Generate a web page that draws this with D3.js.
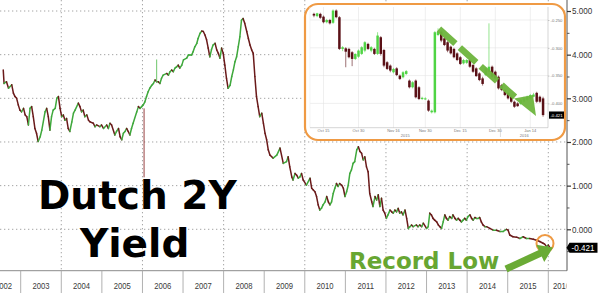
<!DOCTYPE html>
<html><head><meta charset="utf-8">
<script src="https://cdn.jsdelivr.net/npm/d3@7"></script>
<style>body{margin:0;background:#fff;overflow:hidden}svg{display:block}</style>
</head><body><svg id="c" width="600" height="293"></svg>
<script>
// ---------- DATA ----------
const mainDates = [2002.57,2002.59,2002.65,2002.70,2002.78,2002.82,2002.86,2002.90,2002.94,2002.98,
2003.02,2003.07,2003.11,2003.15,2003.19,2003.23,2003.27,2003.31,2003.35,2003.39,2003.43,2003.48,2003.52,2003.60,2003.64,2003.68,2003.72,2003.76,2003.80,2003.85,2003.89,2003.93,2003.97,
2004.01,2004.05,2004.09,2004.13,2004.17,2004.21,2004.26,2004.30,2004.34,2004.42,2004.46,2004.50,2004.54,2004.58,2004.63,2004.67,2004.71,2004.79,2004.83,2004.87,2004.95,2004.99,
2005.04,2005.12,2005.16,2005.20,2005.24,2005.32,2005.36,2005.41,2005.45,2005.49,2005.53,2005.57,2005.61,2005.65,2005.69,2005.73,2005.77,2005.86,2005.90,2005.94,2005.98,
2006.02,2006.06,2006.10,2006.14,2006.18,2006.23,2006.27,2006.31,2006.35,2006.39,2006.43,2006.47,2006.51,2006.60,2006.64,2006.68,2006.72,2006.76,2006.80,2006.84,2006.88,2006.92,2006.97,
2007.01,2007.09,2007.13,2007.17,2007.21,2007.25,2007.29,2007.34,2007.37,2007.42,2007.46,2007.50,2007.54,2007.58,2007.62,2007.66,2007.70,2007.74,2007.79,2007.83,2007.87,2007.91,2007.95,2007.99,
2008.03,2008.07,2008.11,2008.16,2008.20,2008.24,2008.28,2008.32,2008.36,2008.40,2008.44,2008.48,2008.52,2008.57,2008.61,2008.65,2008.69,2008.73,2008.77,2008.81,2008.85,2008.89,2008.94,2008.98,
2009.02,2009.06,2009.10,2009.14,2009.22,2009.31,2009.39,2009.47,2009.55,2009.59,2009.63,2009.68,2009.71,2009.76,2009.80,2009.84,2009.88,2009.92,2009.96,
2010.04,2010.13,2010.17,2010.21,2010.25,2010.29,2010.33,2010.37,2010.41,2010.45,2010.50,2010.54,2010.58,2010.62,2010.66,2010.70,2010.74,2010.78,2010.82,2010.86,2010.91,2010.95,2010.99,
2011.03,2011.07,2011.11,2011.15,2011.19,2011.23,2011.28,2011.32,2011.36,2011.40,2011.44,2011.48,2011.52,2011.56,2011.60,2011.65,2011.68,2011.73,2011.77,2011.81,2011.85,2011.89,2011.93,2011.97,
2012.01,2012.05,2012.10,2012.14,2012.18,2012.22,2012.26,2012.30,2012.34,2012.38,2012.42,2012.47,2012.51,2012.55,2012.59,2012.63,2012.67,2012.75,2012.79,2012.83,2012.88,2012.92,
2013.00,2013.04,2013.08,2013.12,2013.16,2013.20,2013.25,2013.29,2013.33,2013.37,2013.41,2013.45,2013.49,2013.53,2013.57,2013.62,2013.65,2013.70,2013.74,2013.78,2013.82,2013.86,2013.90,2013.94,2013.98,
2014.02,2014.07,2014.11,2014.15,2014.19,2014.23,2014.27,2014.31,2014.35,2014.39,2014.44,2014.48,2014.56,2014.64,2014.72,2014.81,2014.89,2014.97,
2015.01,2015.05,2015.13,2015.22,2015.30,2015.38,2015.46,2015.54,2015.63,2015.71,2015.79,2015.87,2015.91,2015.96,2016.00,2016.04];
const mainValues = [3.65,3.34,3.38,3.23,3.31,3.12,3.04,3.00,2.85,2.73,
2.69,2.77,2.62,2.58,2.39,2.77,2.81,2.58,2.31,2.20,2.01,2.12,2.27,2.69,2.77,2.58,2.27,2.58,2.73,2.77,3.00,3.04,2.77,
2.58,2.62,2.50,2.54,2.31,2.24,2.46,2.66,2.73,2.89,2.81,2.69,2.73,2.58,2.62,2.50,2.46,2.43,2.35,2.39,2.35,2.39,
2.31,2.39,2.31,2.43,2.39,2.16,2.24,2.31,2.12,2.05,2.20,2.24,2.31,2.24,2.16,2.31,2.43,2.69,2.81,2.77,2.81,
2.85,2.92,3.04,3.15,3.23,3.30,3.34,3.42,3.38,3.38,3.34,3.46,3.53,3.57,3.53,3.61,3.65,3.61,3.69,3.72,3.76,3.69,3.76,
3.88,3.92,3.99,3.99,3.99,4.07,4.18,4.26,4.37,4.49,4.54,4.53,4.45,4.34,4.15,3.95,4.11,4.22,4.26,4.11,4.03,3.92,4.15,4.03,
3.76,3.46,3.23,3.30,3.50,3.65,3.84,3.95,4.18,4.41,4.79,4.83,4.72,4.53,4.37,4.22,4.11,4.03,3.50,3.04,2.81,2.58,2.66,2.43,
2.20,2.05,1.82,1.70,1.63,1.70,1.86,1.51,1.55,1.66,1.43,1.20,1.13,1.28,1.24,1.17,1.20,1.28,1.13,
1.01,1.17,0.94,0.90,0.86,0.75,0.56,0.44,0.48,0.56,0.63,0.75,0.63,0.56,0.63,0.82,0.94,1.05,0.98,1.05,1.01,0.94,0.75,
0.86,1.01,1.28,1.36,1.51,1.55,1.82,1.89,1.78,1.74,1.59,1.66,1.43,1.32,0.82,0.63,0.52,0.75,0.67,0.79,0.52,0.71,0.44,0.37,
0.25,0.33,0.44,0.40,0.37,0.44,0.40,0.48,0.37,0.40,0.33,0.44,0.25,0.02,0.06,0.10,0.06,0.10,0.06,0.10,0.06,0.14,
0.02,0.06,0.37,0.33,0.25,0.21,0.17,0.10,0.06,0.02,0.17,0.33,0.25,0.21,0.29,0.25,0.33,0.25,0.21,0.25,0.21,0.17,0.21,0.25,0.21,
0.29,0.33,0.25,0.21,0.27,0.25,0.25,0.27,0.17,0.10,0.06,0.06,0.02,-0.02,-0.02,-0.05,-0.05,0.00,
-0.02,-0.13,-0.17,-0.18,-0.21,-0.17,-0.21,-0.21,-0.23,-0.25,-0.28,-0.32,-0.34,-0.40,-0.36,-0.421];
// single-day outlier ticks
const spikeDates = [2006.04, 2006.35];
const spikeFrom  = [2.77, 3.38];
const spikeTo    = [1.19, 3.89];

const yearLabels = ["2002","2003","2004","2005","2006","2007","2008","2009","2010","2011","2012","2013","2014","2015","2016"];
const gridYears  = [2004,2006,2008,2010,2012,2014,2016];
const yTicks     = [0,1,2,3,4,5];
const yMinorTicks= [-0.5,0.5,1.5,2.5,3.5,4.5];
const lastValue  = -0.421;

// inset (daily candles, Oct 2015 - Jan 2016)
const insetDates = ["2015-10-12","2015-10-13","2015-10-14","2015-10-15","2015-10-16","2015-10-19","2015-10-20","2015-10-21","2015-10-22","2015-10-23",
"2015-10-26","2015-10-27","2015-10-28","2015-10-29","2015-10-30","2015-11-02","2015-11-03","2015-11-04","2015-11-05","2015-11-06",
"2015-11-09","2015-11-10","2015-11-11","2015-11-12","2015-11-13","2015-11-16","2015-11-17","2015-11-18","2015-11-19","2015-11-20",
"2015-11-23","2015-11-24","2015-11-25","2015-11-26","2015-11-27","2015-11-30","2015-12-01","2015-12-02","2015-12-03","2015-12-04",
"2015-12-07","2015-12-08","2015-12-09","2015-12-10","2015-12-11","2015-12-14","2015-12-15","2015-12-16","2015-12-17","2015-12-18",
"2015-12-21","2015-12-22","2015-12-23","2015-12-24","2015-12-25","2015-12-28","2015-12-29","2015-12-30","2015-12-31","2016-01-01",
"2016-01-04","2016-01-05","2016-01-06","2016-01-07","2016-01-08","2016-01-11","2016-01-12","2016-01-13","2016-01-14","2016-01-15",
"2016-01-18","2016-01-19","2016-01-20"];
const insetOpen  = [-0.239,-0.243,-0.239,-0.244,-0.254,-0.250,-0.255,-0.233,-0.245,-0.302,
-0.301,-0.302,-0.308,-0.320,-0.316,-0.311,-0.305,-0.293,-0.305,-0.302,
-0.311,-0.281,-0.304,-0.326,-0.332,-0.344,-0.337,-0.350,-0.353,-0.347,
-0.359,-0.371,-0.359,-0.371,-0.392,-0.392,-0.395,-0.416,-0.416,-0.277,
-0.271,-0.283,-0.290,-0.298,-0.302,-0.310,-0.317,-0.328,-0.327,-0.322,
-0.331,-0.337,-0.346,-0.355,-0.349,-0.343,-0.334,-0.343,-0.352,-0.367,
-0.376,-0.381,-0.388,-0.397,-0.400,-0.401,-0.397,-0.394,-0.391,-0.388,
-0.381,-0.388,-0.391];
const insetClose = [-0.242,-0.238,-0.246,-0.254,-0.250,-0.256,-0.233,-0.245,-0.302,-0.299,
-0.307,-0.317,-0.320,-0.311,-0.305,-0.299,-0.290,-0.302,-0.299,-0.311,
-0.278,-0.311,-0.332,-0.338,-0.341,-0.338,-0.349,-0.356,-0.344,-0.342,
-0.371,-0.362,-0.389,-0.392,-0.390,-0.391,-0.413,-0.413,-0.272,-0.271,
-0.287,-0.295,-0.305,-0.310,-0.317,-0.322,-0.329,-0.322,-0.322,-0.334,
-0.343,-0.351,-0.358,-0.365,-0.337,-0.334,-0.352,-0.355,-0.373,-0.376,
-0.385,-0.391,-0.397,-0.406,-0.405,-0.394,-0.391,-0.388,-0.385,-0.384,
-0.397,-0.397,-0.421];
const insetHigh  = [-0.237,-0.237,-0.237,-0.242,-0.248,-0.248,-0.231,-0.231,-0.243,-0.297,
-0.299,-0.300,-0.306,-0.310,-0.303,-0.297,-0.288,-0.291,-0.297,-0.300,
-0.272,-0.279,-0.302,-0.324,-0.330,-0.336,-0.335,-0.348,-0.342,-0.340,
-0.357,-0.360,-0.357,-0.369,-0.388,-0.389,-0.393,-0.411,-0.270,-0.265,
-0.269,-0.281,-0.288,-0.296,-0.300,-0.308,-0.315,-0.320,-0.320,-0.320,
-0.329,-0.335,-0.344,-0.352,-0.335,-0.256,-0.332,-0.341,-0.350,-0.365,
-0.374,-0.380,-0.386,-0.395,-0.398,-0.392,-0.388,-0.386,-0.383,-0.381,
-0.379,-0.386,-0.388];
const insetLow   = [-0.245,-0.245,-0.248,-0.256,-0.256,-0.258,-0.257,-0.247,-0.304,-0.306,
-0.335,-0.319,-0.333,-0.322,-0.318,-0.313,-0.308,-0.304,-0.308,-0.313,
-0.313,-0.314,-0.335,-0.340,-0.344,-0.346,-0.351,-0.358,-0.355,-0.349,
-0.373,-0.373,-0.391,-0.394,-0.394,-0.394,-0.415,-0.418,-0.418,-0.279,
-0.290,-0.297,-0.308,-0.312,-0.319,-0.324,-0.331,-0.330,-0.329,-0.336,
-0.345,-0.352,-0.360,-0.368,-0.351,-0.344,-0.354,-0.357,-0.375,-0.378,
-0.387,-0.393,-0.399,-0.408,-0.406,-0.403,-0.399,-0.396,-0.393,-0.389,
-0.399,-0.399,-0.424];
const insetTickDates  = ["2015-10-15","2015-10-30","2015-11-16","2015-11-30","2015-12-15","2015-12-30","2016-01-14"];
const insetTickLabels = ["Oct 15","Oct 30","Nov 16","Nov 30","Dec 15","Dec 30","Jan 14"];
const insetYTicks = [-0.25,-0.30,-0.35,-0.40];
const insetYears  = ["2015","2016"];
const insetYearStart = "2016-01-01";

// ---------- DRAW ----------
const svg = d3.select('#c');
const axisX = 567, axisY = 270.7;
const x = d3.scaleLinear().domain([2003,2016]).range([20.7,548.3]);
const y = d3.scaleLinear().domain([0,5]).range([229.3,11]);
const GREEN = '#3fa83c', RED = '#6a1a1a';
const fmt3 = v => d3.format('.3f')(v).replace('\u2212','-');

// white background
svg.append('rect').attr('width',600).attr('height',293).attr('fill','#fff');

// grid
const grid = svg.append('g');
grid.selectAll('line.h').data(yTicks).join('line')
  .attr('x1',0).attr('x2',axisX).attr('y1',d=>y(d)).attr('y2',d=>y(d))
  .attr('stroke','#9a9a9a').attr('stroke-width',0.9).attr('stroke-dasharray','1.3,2.7');
grid.selectAll('line.v').data(gridYears).join('line')
  .attr('x1',d=>x(d)).attr('x2',d=>x(d)).attr('y1',0).attr('y2',axisY)
  .attr('stroke','#9a9a9a').attr('stroke-width',0.9).attr('stroke-dasharray','1.3,2.7');

// main series: segments coloured by direction
const pts = mainDates.map((d,i)=>[x(d), y(mainValues[i])]);
const segs = pts.slice(1).map((p,i)=>({a:pts[i], b:p, up: mainValues[i+1] >= mainValues[i]}));
const mainG = svg.append('g');
mainG.selectAll('line').data(segs).join('line')
  .attr('x1',d=>d.a[0]).attr('y1',d=>d.a[1]).attr('x2',d=>d.b[0]).attr('y2',d=>d.b[1])
  .attr('stroke',d=>d.up?GREEN:RED).attr('stroke-width',1.5).attr('stroke-linecap','round');
mainG.selectAll('line.sp').data(spikeDates).join('line').attr('class','sp')
  .attr('x1',d=>x(d)).attr('x2',d=>x(d))
  .attr('y1',(d,i)=>y(spikeFrom[i])).attr('y2',(d,i)=>y(spikeTo[i]))
  .attr('stroke',(d,i)=>spikeTo[i]<spikeFrom[i]?'#8a2a2a':'#5cbf5a').attr('stroke-width',0.9);

// axes
svg.append('line').attr('x1',0).attr('x2',axisX).attr('y1',axisY).attr('y2',axisY).attr('stroke','#8c8c8c').attr('stroke-width',1);
svg.append('line').attr('x1',axisX).attr('x2',axisX).attr('y1',0).attr('y2',axisY).attr('stroke','#555').attr('stroke-width',1);

const yAx = svg.append('g').attr('transform',`translate(${axisX},0)`)
  .call(d3.axisRight(y).tickValues(yTicks).tickFormat(fmt3).tickSize(4).tickPadding(1));
yAx.select('.domain').remove();
yAx.selectAll('line').attr('stroke','#333').attr('stroke-width',1.2);
yAx.selectAll('text').attr('font-family','Liberation Sans, Arial, sans-serif').attr('font-size',9.2)
  .attr('fill','#333').attr('transform','scale(0.88,1)').attr('x',5.6);
const yMin = svg.append('g').attr('transform',`translate(${axisX},0)`)
  .call(d3.axisRight(y).tickValues(yMinorTicks).tickFormat('').tickSize(2.5));
yMin.select('.domain').remove();
yMin.selectAll('line').attr('stroke','#555');

// x axis: year separators + labels
const xAx = svg.append('g');
xAx.selectAll('line').data(yearLabels.map(Number).filter(v=>v>=2003)).join('line')
  .attr('x1',d=>x(d)).attr('x2',d=>x(d)).attr('y1',axisY).attr('y2',293)
  .attr('stroke','#a8a8a8').attr('stroke-width',0.9);
svg.append('clipPath').attr('id','xclip').append('rect').attr('x',0).attr('y',axisY).attr('width',axisX-0.5).attr('height',30);
xAx.append('g').attr('clip-path','url(#xclip)').selectAll('text').data(yearLabels).join('text')
  .attr('transform',d=>`translate(${Math.max(3.5,Math.min(561.5,x(+d+0.5)))},289) scale(0.8,1)`)
  .attr('text-anchor','middle').attr('font-family','Liberation Sans, Arial, sans-serif')
  .attr('font-size',9.6).attr('fill','#3a3a3a').text(d=>d);

// last value label
const ly = y(lastValue);
svg.append('path').attr('d',`M${axisX-0.5},${ly} L${axisX+2.5},${ly-5} L597.5,${ly-5} L597.5,${ly+5} L${axisX+2.5},${ly+5} Z`).attr('fill','#000');
svg.append('text').attr('transform',`translate(583,${ly+3.2}) scale(0.9,1)`).attr('text-anchor','middle')
  .attr('font-family','Liberation Sans, Arial, sans-serif').attr('font-size',9).attr('fill','#fff').text(fmt3(lastValue));

// ---------- INSET ----------
const ins = svg.append('g');
ins.append('rect').attr('x',305).attr('y',4).attr('width',260).attr('height',136).attr('rx',13)
  .attr('fill','#fff').attr('stroke','#ef9a44').attr('stroke-width',2.2);
const ix = d3.scaleBand().domain(insetDates).range([312,545]).padding(0.22);
const iy = d3.scaleLinear().domain([-0.25,-0.40]).range([20,103.4]);
const iRight = 548, iBottom = 127.7, iTop = 7, iLeft = 310;
// gridlines
ins.selectAll('line.gh').data(insetYTicks).join('line').attr('x1',iLeft).attr('x2',iRight)
  .attr('y1',d=>iy(d)).attr('y2',d=>iy(d)).attr('stroke','#e4e4e4').attr('stroke-width',0.6);
ins.selectAll('line.gv').data(insetTickDates).join('line')
  .attr('x1',d=>ix(d)+ix.bandwidth()/2).attr('x2',d=>ix(d)+ix.bandwidth()/2).attr('y1',iTop).attr('y2',iBottom)
  .attr('stroke','#e4e4e4').attr('stroke-width',0.6);
ins.append('line').attr('x1',iLeft).attr('x2',iLeft).attr('y1',iTop).attr('y2',iBottom).attr('stroke','#ececec').attr('stroke-width',0.6);
ins.append('line').attr('x1',iRight).attr('x2',iRight).attr('y1',iTop).attr('y2',iBottom).attr('stroke','#b8b8b8').attr('stroke-width',0.6);
ins.append('line').attr('x1',iLeft).attr('x2',iRight).attr('y1',iBottom).attr('y2',iBottom).attr('stroke','#b8b8b8').attr('stroke-width',0.6);
// candles
const IG = '#4fd444', IR = '#5a1016';
const cd = insetDates.map((d,i)=>({d,o:insetOpen[i],c:insetClose[i],h:insetHigh[i],l:insetLow[i]}));
const cg = ins.append('g');
cg.selectAll('line').data(cd).join('line')
  .attr('x1',d=>ix(d.d)+ix.bandwidth()/2).attr('x2',d=>ix(d.d)+ix.bandwidth()/2)
  .attr('y1',d=>iy(d.h)).attr('y2',d=>iy(d.l)).attr('stroke',d=>d.c>=d.o?IG:IR).attr('stroke-width',0.6);
cg.selectAll('rect').data(cd).join('rect')
  .attr('x',d=>ix(d.d)).attr('width',ix.bandwidth())
  .attr('y',d=>iy(Math.max(d.o,d.c))).attr('height',d=>Math.max(1,Math.abs(iy(d.o)-iy(d.c))))
  .attr('fill',d=>d.c>=d.o?IG:IR);
// inset y axis
const iyAx = ins.append('g').attr('transform',`translate(${iRight},0)`)
  .call(d3.axisRight(iy).tickValues(insetYTicks).tickFormat(fmt3).tickSize(1.5).tickPadding(1));
iyAx.select('.domain').remove();
iyAx.selectAll('line').attr('stroke','#999').attr('stroke-width',0.5);
iyAx.selectAll('text').attr('font-family','Liberation Sans, Arial, sans-serif').attr('font-size',4.2).attr('fill','#777');
// inset x labels
ins.selectAll('text.xl').data(insetTickDates).join('text').attr('class','xl')
  .attr('x',d=>ix(d)+ix.bandwidth()/2).attr('y',131.8).attr('text-anchor','middle')
  .attr('font-family','Liberation Sans, Arial, sans-serif').attr('font-size',4).attr('fill','#777')
  .text((d,i)=>insetTickLabels[i]);
const yb = ix(insetYearStart);
ins.append('line').attr('x1',yb).attr('x2',yb).attr('y1',iBottom).attr('y2',137).attr('stroke','#bbb').attr('stroke-width',0.5);
ins.selectAll('text.yl').data(insetYears).join('text').attr('class','yl')
  .attr('x',(d,i)=> i===0 ? (iLeft+yb)/2 : (yb+iRight)/2).attr('y',136.6).attr('text-anchor','middle')
  .attr('font-family','Liberation Sans, Arial, sans-serif').attr('font-size',4).attr('fill','#777').text(d=>d);
// inset last label
const ily = iy(lastValue);
ins.append('rect').attr('x',iRight+1).attr('y',ily-3.6).attr('width',15).attr('height',7.2).attr('fill','#000');
ins.append('text').attr('x',iRight+8.5).attr('y',ily+1.5).attr('text-anchor','middle')
  .attr('font-family','Liberation Sans, Arial, sans-serif').attr('font-size',4.3).attr('fill','#fff').text(fmt3(lastValue));
// inset dashed green arrow (annotation)
ins.append('line').attr('x1',439).attr('y1',29).attr('x2',515).attr('y2',97)
  .attr('stroke','#6db53d').attr('stroke-width',6.5).attr('stroke-dasharray','22,6').attr('opacity',0.95);
ins.append('path').attr('d','M514,98.5 L533,95 L536,116 Z').attr('fill','#6db53d').attr('opacity',0.95);

// ---------- ANNOTATIONS ----------
svg.append('text').attr('x',38).attr('y',208.5).attr('font-family','DejaVu Sans, Verdana, sans-serif')
  .attr('font-weight','bold').attr('font-size',39).attr('fill','#000').text('Dutch 2Y');
svg.append('text').attr('x',80).attr('y',256.5).attr('font-family','DejaVu Sans, Verdana, sans-serif')
  .attr('font-weight','bold').attr('font-size',39).attr('fill','#000').text('Yield');
svg.append('text').attr('x',349).attr('y',268.5).attr('font-family','DejaVu Sans, Verdana, sans-serif')
  .attr('font-weight','bold').attr('font-size',23).attr('fill','#67a632').text('Record Low');

// circle around latest value
svg.append('circle').attr('cx',545).attr('cy',243.5).attr('r',8.5).attr('fill','none')
  .attr('stroke','#ef9a44').attr('stroke-width',2);

// big green arrow
(function(){
  const S=[506,269], T=[553,247.5], hl=14, hw=9.5, sw=3.6;
  const dx=T[0]-S[0], dy=T[1]-S[1], L=Math.hypot(dx,dy), ux=dx/L, uy=dy/L, nx=-uy, ny=ux;
  const B=[T[0]-ux*hl, T[1]-uy*hl];
  const p=[[S[0]+nx*sw,S[1]+ny*sw],[B[0]+nx*sw,B[1]+ny*sw],[B[0]+nx*hw,B[1]+ny*hw],T,
           [B[0]-nx*hw,B[1]-ny*hw],[B[0]-nx*sw,B[1]-ny*sw],[S[0]-nx*sw,S[1]-ny*sw]];
  svg.append('path').attr('d','M'+p.map(q=>q.join(',')).join('L')+'Z').attr('fill','#6aab35');
})();
</script></body></html>
